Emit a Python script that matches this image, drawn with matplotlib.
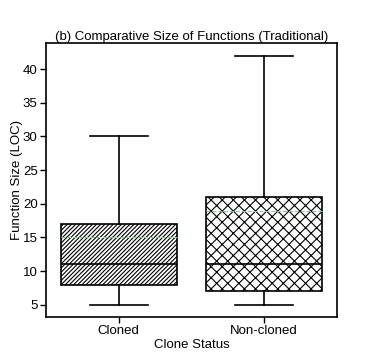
import matplotlib
matplotlib.use("Agg")
import matplotlib.pyplot as plt

plt.rcParams['font.family'] = ['Liberation Sans', 'DejaVu Sans']
plt.rcParams['hatch.linewidth'] = 0.8

# box statistics (LOC)
groups = ['Cloned', 'Non-cloned']
whislo = [5, 5]
q1 = [8, 7]
med = [11, 11]
mean = [15.1, 19.0]
q3 = [17, 21]
whishi = [30, 42]
hatches = ['////////', 'xxx']

stats = []
for i, g in enumerate(groups):
    stats.append(dict(label=g, whislo=whislo[i], q1=q1[i], med=med[i],
                      mean=mean[i], q3=q3[i], whishi=whishi[i], fliers=[]))

fig = plt.figure(figsize=(3.74, 3.63), dpi=100)
ax = fig.add_axes([0.123, 0.127, 0.778, 0.755])

lw = 1.2
bp = ax.bxp(stats, positions=[1, 2], widths=0.8, patch_artist=True,
            showmeans=True, meanline=True,
            boxprops=dict(facecolor='white', edgecolor='black', linewidth=lw),
            medianprops=dict(color='black', linewidth=lw),
            whiskerprops=dict(color='black', linewidth=lw),
            capprops=dict(color='black', linewidth=lw),
            meanprops=dict(color='#86cf94', linestyle='--', linewidth=0.8, zorder=5))
for patch, h in zip(bp['boxes'], hatches):
    patch.set_hatch(h)
for cap in bp['caps']:
    x = cap.get_xdata()
    c = (x[0] + x[1]) / 2
    cap.set_xdata([c - 0.2, c + 0.2])

ax.set_xlim(0.5, 2.5)
ax.set_ylim(3.2, 43.9)
ax.set_yticks([5, 10, 15, 20, 25, 30, 35, 40])
ax.set_xticks([1, 2])
ax.set_xticklabels(groups)
ax.tick_params(labelsize=9.5, length=4, width=1, pad=2, direction='out',
               top=False, right=False)
for s in ax.spines.values():
    s.set_linewidth(1.2)

ax.set_title('(b) Comparative Size of Functions (Traditional)', fontsize=9.5, pad=2)
ax.set_xlabel('Clone Status', fontsize=9.5, labelpad=1)
ax.set_ylabel('Function Size (LOC)', fontsize=9.5, labelpad=-0.5)

fig.savefig('out.png', dpi=100)
